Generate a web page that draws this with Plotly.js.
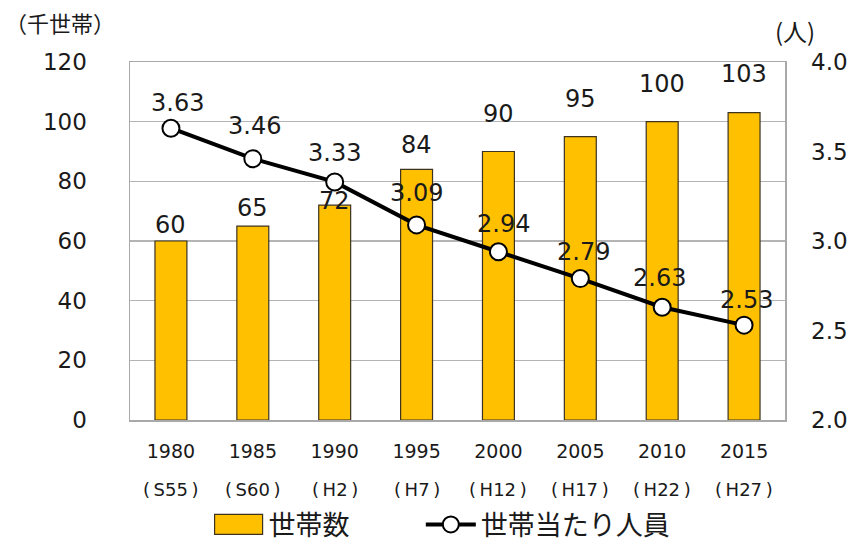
<!DOCTYPE html>
<html>
<head>
<meta charset="utf-8">
<script src="https://cdn.plot.ly/plotly-3.0.1.min.js"></script>
<style>html,body{margin:0;padding:0;background:#fff;}#chart{width:859px;height:544px;}</style>
</head>
<body>
<div id="chart"></div>
<script>
// Data
const years = ["1980", "1985", "1990", "1995", "2000", "2005", "2010", "2015"];
const eraLabels = ["(\u2009S55\u2009)", "(\u2009S60\u2009)", "(\u2009H2\u2009)", "(\u2009H7\u2009)", "(\u2009H12\u2009)", "(\u2009H17\u2009)", "(\u2009H22\u2009)", "(\u2009H27\u2009)"];
const households = [60, 65, 72, 84, 90, 95, 100, 103];          // 千世帯
const perHousehold = [3.63, 3.46, 3.33, 3.09, 2.94, 2.79, 2.63, 2.53]; // 人
const barName = "世帯数";
const lineName = "世帯当たり人員";

// Label offsets (style only)
const barLabelShift = [16, 18, 4, 24, 38, 38, 38, 39];
const lineLabelShift = [25, 33, 29, 32, 28, 27, 29, 25];
const lineLabelXShift = [7, 2, 0, 0, 5, 3, -3, 2];

const FONT = "DejaVu Sans, Noto Sans CJK JP, sans-serif";
const CJK = "Noto Sans CJK JP, sans-serif";
const TXT = "#1a1a1a";

const traces = [
  {
    type: "bar", x: years, y: households, name: barName,
    marker: {color: "#FFC000", line: {color: "#3d3320", width: 1.2}},
    width: 0.39, yaxis: "y", hoverinfo: "skip", legend: "legend"
  },
  {
    type: "scatter", mode: "lines+markers", x: years, y: perHousehold, name: lineName,
    yaxis: "y2",
    line: {color: "#000000", width: 4},
    marker: {size: 17, color: "#ffffff", line: {color: "#000000", width: 2}},
    hoverinfo: "skip", legend: "legend2"
  }
];

// category axes: annotation x is the category index
const annotations = [];
years.forEach((yr, i) => {
  annotations.push({
    x: i, y: households[i], xref: "x", yref: "y", text: String(households[i]),
    showarrow: false, yanchor: "middle", yshift: barLabelShift[i],
    font: {family: FONT, size: 24, color: TXT}
  });
  annotations.push({
    x: i, y: perHousehold[i], xref: "x", yref: "y2", text: perHousehold[i].toFixed(2),
    showarrow: false, yanchor: "middle", yshift: lineLabelShift[i], xshift: lineLabelXShift[i],
    font: {family: FONT, size: 24, color: TXT}
  });
  annotations.push({
    x: i, y: 0, xref: "x", yref: "paper", text: eraLabels[i],
    showarrow: false, yanchor: "middle", yshift: -69,
    font: {family: FONT, size: 18, color: TXT}
  });
});
annotations.push({
  x: 0, y: 1, xref: "paper", yref: "paper", text: "（千世帯）",
  xanchor: "center", yanchor: "middle", xshift: -70, yshift: 40, showarrow: false,
  font: {family: CJK, size: 22, color: TXT}
});
annotations.push({
  x: 1, y: 1, xref: "paper", yref: "paper", text: "(人)",
  xanchor: "center", yanchor: "middle", xshift: 10, yshift: 32, showarrow: false,
  font: {family: CJK, size: 24, color: TXT}
});

const legendBase = {
  orientation: "h", xanchor: "left", y: -0.293, yanchor: "middle",
  font: {family: CJK, size: 27, color: TXT}, itemwidth: 50,
  bgcolor: "rgba(0,0,0,0)"
};

const layout = {
  width: 859, height: 544,
  margin: {l: 130, r: 74, t: 62, b: 124, autoexpand: false},
  paper_bgcolor: "#ffffff", plot_bgcolor: "#ffffff",
  showlegend: true,
  legend: Object.assign({}, legendBase, {x: 0.12}),
  legend2: Object.assign({}, legendBase, {x: 0.444}),
  bargap: 0.6,
  xaxis: {
    type: "category", range: [-0.5, years.length - 0.5], autorange: false,
    showgrid: false, ticks: "", showline: true, mirror: true,
    linecolor: "#a9a9a9", linewidth: 1.5,
    tickfont: {family: FONT, size: 19, color: TXT}, ticklabelstandoff: 14
  },
  yaxis: {
    range: [0, 120], dtick: 20, showgrid: true, gridcolor: "#b4b4b4", gridwidth: 1.5,
    zeroline: false, showline: true, mirror: true, linecolor: "#a9a9a9", linewidth: 1.5,
    ticks: "", tickfont: {family: FONT, size: 23, color: TXT}, ticklabelstandoff: 37
  },
  yaxis2: {
    range: [2, 4], dtick: 0.5, tickformat: ".1f", overlaying: "y", side: "right",
    showgrid: false, zeroline: false, showline: false, ticks: "",
    tickfont: {family: FONT, size: 23, color: TXT}, ticklabelstandoff: 25
  },
  annotations: annotations
};

Plotly.newPlot("chart", traces, layout, {displayModeBar: false, staticPlot: true}).then(gd => {
  // widen the bar legend swatch to a wide rectangle like the original
  gd.querySelectorAll(".legend .traces .legendbar path, .legend .traces .legendpoints path.legendundefined").forEach(p => {
    p.setAttribute("d", "M-24,-10H24V10H-24Z");
  });
});
</script>
</body>
</html>
